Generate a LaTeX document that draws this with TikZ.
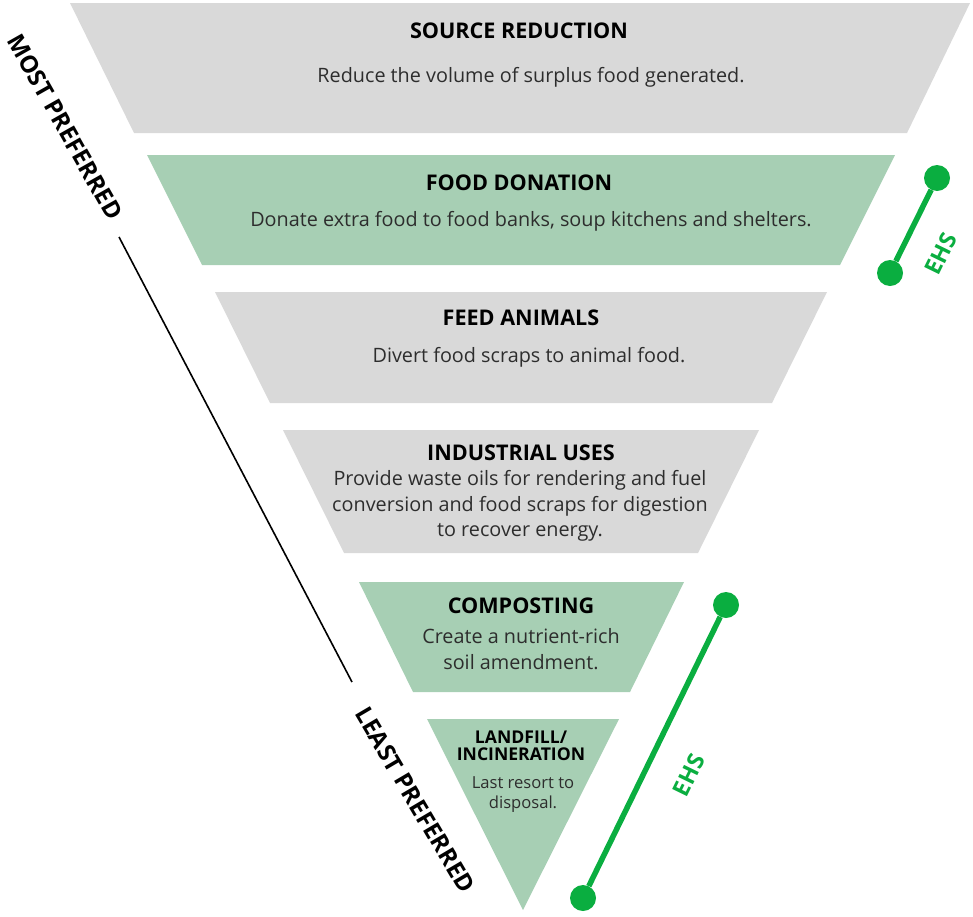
\documentclass[tikz,border=0pt]{standalone}
\usepackage{fontspec}
\setmainfont{Open Sans}
\definecolor{bandgray}{RGB}{217,217,217}
\definecolor{bandgreen}{RGB}{167,207,180}
\definecolor{ehsgreen}{RGB}{10,174,64}
\definecolor{txtgray}{RGB}{45,45,45}
\tikzset{
  grayband/.style={fill=bandgray},
  greenband/.style={fill=bandgreen},
  title/.style={font=\fontsize{21.6}{26}\selectfont\bfseries, text=black, inner sep=0pt},
  body/.style={font=\fontsize{19.8}{25.5}\selectfont, text=txtgray, align=center, inner sep=0pt},
  smalltitle/.style={font=\fontsize{17.6}{16.5}\selectfont\bfseries, text=black, align=center, inner sep=0pt},
  smallbody/.style={font=\fontsize{16.6}{20}\selectfont, text=txtgray, align=center, inner sep=0pt},
  dot/.style={circle, fill=ehsgreen, minimum size=26pt, inner sep=0pt},
  ehsline/.style={draw=ehsgreen, line width=5.5pt},
  ehs/.style={font=\fontsize{23}{26}\selectfont\bfseries, text=ehsgreen, inner sep=0pt},
  pref/.style={font=\fontsize{24}{28}\selectfont\bfseries, text=black, inner sep=0pt},
  prefline/.style={draw=black, line width=1.6pt}
}
\begin{document}
\begin{tikzpicture}[x=1pt,y=-1pt]
\useasboundingbox (0,0) rectangle (973,916);
% bands (center 521, half width 0.495*(910-y))
\path[grayband]  (70,3) -- (970,3) -- (907,133) -- (134,133) -- cycle;
\path[greenband] (147,155) -- (895,155) -- (840,265) -- (202,265) -- cycle;
\path[grayband]  (215,292) -- (827,292) -- (772,403) -- (270,403) -- cycle;
\path[grayband]  (283,430) -- (759,430) -- (698,553) -- (344,553) -- cycle;
\path[greenband] (359,582) -- (684,582) -- (630,692) -- (413,692) -- cycle;
\path[greenband] (427,719) -- (619,719) -- (523,910) -- cycle;
% texts
\node[title] (t1) at (519,31) {SOURCE REDUCTION};
\node[body] (b1) at (531,77) {Reduce the volume of surplus food generated.};
\node[title] (t2) at (519,183) {FOOD DONATION};
\node[body] (b2) at (531,221) {Donate extra food to food banks, soup kitchens and shelters.};
\node[title] (t3) at (521,318) {FEED ANIMALS};
\node[body] (b3) at (529,357) {Divert food scraps to animal food.};
\node[title] (t4) at (521,453) {INDUSTRIAL USES};
\node[body] (b4) at (520,506) {Provide waste oils for rendering and fuel\\conversion and food scraps for digestion\\to recover energy.};
\node[title] (t5) at (521,606) {COMPOSTING};
\node[body] (b5) at (521,649) {Create a nutrient-rich\\soil amendment.};
\node[smalltitle] (t6) at (521,746) {LANDFILL/\\INCINERATION};
\node[smallbody] (b6) at (523,795) {Last resort to\\disposal.};
% preference axis
\node[pref, rotate=-60.5] (most) at (65,127) {MOST PREFERRED};
\node[pref, rotate=-59.5] (least) at (415,800) {LEAST PREFERRED};
\coordinate (l1) at (119,237);
\coordinate (l2) at (352,682);
\draw[prefline] (l1) -- (l2);
% EHS markers
\node[dot] (e1a) at (937,178) {};
\node[dot] (e1b) at (890,273) {};
\draw[ehsline] (e1a) -- (e1b);
\node[ehs, rotate=64] (e1t) at (941,254) {EHS};
\node[dot] (e2a) at (726,605) {};
\node[dot] (e2b) at (583,898) {};
\draw[ehsline] (e2a) -- (e2b);
\node[ehs, rotate=64] (e2t) at (689,775) {EHS};
\end{tikzpicture}
\end{document}
